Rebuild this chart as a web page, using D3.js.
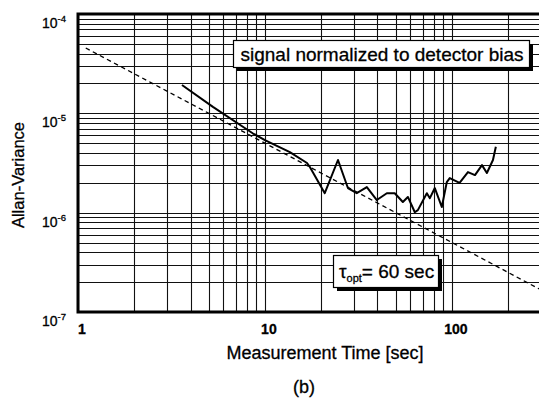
<!DOCTYPE html>
<html>
<head>
<meta charset="utf-8">
<script src="https://cdn.jsdelivr.net/npm/d3@7"></script>
<style>
  html, body { margin: 0; padding: 0; background: #fff; }
  svg { display: block; }
  text { font-family: "Liberation Sans", Arial, Helvetica, sans-serif; fill: #000; stroke: #000; stroke-width: 0.3px; }
</style>
</head>
<body>
<svg id="chart" width="539" height="411"></svg>
<script>
// Measured Allan variance vs. averaging time
const tau = [3.6, 5.27, 8.6, 10.0, 13.6, 16.8, 17.4, 20.9, 24.6, 27.8, 31.0, 35.1, 39.7,
  44.9, 49.5, 54.7, 58.2, 63.4, 65.8, 73.5, 76.3, 81.1, 88.4, 94.0, 97.5, 110, 122,
  133, 145, 154, 166, 172];
const allanVar = [1.93e-5, 1.16e-5, 6.3e-6, 5.38e-6, 4.07e-6, 3.16e-6, 2.88e-6, 1.57e-6,
  3.39e-6, 1.77e-6, 1.57e-6, 1.81e-6, 1.34e-6, 1.57e-6, 1.57e-6, 1.28e-6, 1.44e-6,
  1.01e-6, 1.06e-6, 1.57e-6, 1.40e-6, 1.77e-6, 1.14e-6, 2.03e-6, 2.23e-6, 1.99e-6,
  2.56e-6, 2.39e-6, 3.01e-6, 2.51e-6, 3.39e-6, 4.6e-6];

// White-noise reference line (slope -1) end points
const refTau = [1.1, 300];
const refVar = [4.55e-5, 1.67e-7];

// Axis ticks and labels
const xTickValues = [1, 10, 100];
const yExponents = [-4, -5, -6, -7];
const xDomain = [1, 300];
const yDomain = [1e-7, 1e-4];

const boxText = "signal normalized to detector bias";
const tauOptValue = "60 sec";
const xTitle = "Measurement Time [sec]";
const yTitle = "Allan-Variance";
const caption = "(b)";

const svg = d3.select("#chart");
const plotLeft = 78, plotTop = 14, plotBottom = 312, plotRight = 541;
const x = d3.scaleLog().domain(xDomain).range([plotLeft, plotRight]);
const y = d3.scaleLog().domain(yDomain).range([plotBottom, plotTop]);

// Grid: every 1..9 multiple in each decade
const xGrid = [];
for (let d = 1; d <= 100; d *= 10) for (let m = 1; m <= 9; m++) if (d * m <= 300) xGrid.push(d * m);
const yGrid = [];
for (let e = -7; e < -4; e++) for (let m = 1; m <= 9; m++) yGrid.push(m * Math.pow(10, e));

const grid = svg.append("g").attr("stroke", "#111").attr("stroke-width", 1.1);
grid.selectAll("line.v").data(xGrid).join("line")
  .attr("class", "v")
  .attr("x1", d => Math.round(x(d)) + 0.5).attr("x2", d => Math.round(x(d)) + 0.5)
  .attr("y1", plotTop).attr("y2", plotBottom);
grid.selectAll("line.h").data(yGrid).join("line")
  .attr("class", "h")
  .attr("x1", plotLeft).attr("x2", plotRight)
  .attr("y1", d => Math.round(y(d)) + 0.5).attr("y2", d => Math.round(y(d)) + 0.5);

// Frame: heavy left, top and bottom edges
svg.append("path")
  .attr("d", `M${plotRight},${plotTop} H${plotLeft} V${plotBottom} H${plotRight}`)
  .attr("fill", "none").attr("stroke", "#000").attr("stroke-width", 3);

// Reference slope line
svg.append("path")
  .datum(refTau.map((t, i) => [t, refVar[i]]))
  .attr("d", d3.line().x(d => x(d[0])).y(d => y(d[1])))
  .attr("fill", "none").attr("stroke", "#000").attr("stroke-width", 1.3)
  .attr("stroke-dasharray", "4.5,3.5");

// Measured curve
svg.append("path")
  .datum(tau.map((t, i) => [t, allanVar[i]]))
  .attr("d", d3.line().x(d => x(d[0])).y(d => y(d[1])))
  .attr("fill", "none").attr("stroke", "#000").attr("stroke-width", 2)
  .attr("stroke-linejoin", "round");

// Boxed annotation with drop shadow
function shadowBox(x0, y0, w, h) {
  svg.append("rect").attr("x", x0 + 4).attr("y", y0 + 4).attr("width", w).attr("height", h).attr("fill", "#000");
  svg.append("rect").attr("x", x0 + 0.5).attr("y", y0 + 0.5).attr("width", w).attr("height", h)
    .attr("fill", "#fff").attr("stroke", "#000").attr("stroke-width", 1.2);
}
shadowBox(233, 40, 296, 27);
svg.append("text").attr("x", 382).attr("y", 60.5).attr("text-anchor", "middle")
  .attr("font-size", 19).text(boxText);

shadowBox(333, 255, 105, 32);
const t2 = svg.append("text").attr("x", 339).attr("y", 278).attr("font-size", 19);
t2.append("tspan").text("τ");
t2.append("tspan").attr("font-size", 11).attr("dy", 4).text("opt");
t2.append("tspan").attr("dy", -4).text("= " + tauOptValue);

// X tick labels
svg.selectAll("text.xt").data(xTickValues).join("text")
  .attr("class", "xt")
  .attr("x", d => x(d) + 4).attr("y", 334)
  .attr("text-anchor", "middle").attr("font-size", 14).attr("font-weight", "bold")
  .text(d => d);

// Y tick labels (10 with superscript exponent)
const yl = svg.selectAll("text.yt").data(yExponents).join("text")
  .attr("class", "yt")
  .attr("x", 42)
  .attr("y", d => Math.max(y(Math.pow(10, d)) + 14, 21))
  .attr("font-size", 14);
yl.append("tspan").text("10");
yl.append("tspan").attr("font-size", 9.5).attr("dy", -6).text(d => String(d));

// Axis titles and caption
svg.append("text").attr("transform", "translate(24,175) rotate(-90)")
  .attr("text-anchor", "middle").attr("font-size", 16.5).text(yTitle);
svg.append("text").attr("x", 325).attr("y", 359).attr("text-anchor", "middle")
  .attr("font-size", 18).text(xTitle);
svg.append("text").attr("x", 304).attr("y", 393).attr("text-anchor", "middle")
  .attr("font-size", 18).text(caption);
</script>
</body>
</html>
